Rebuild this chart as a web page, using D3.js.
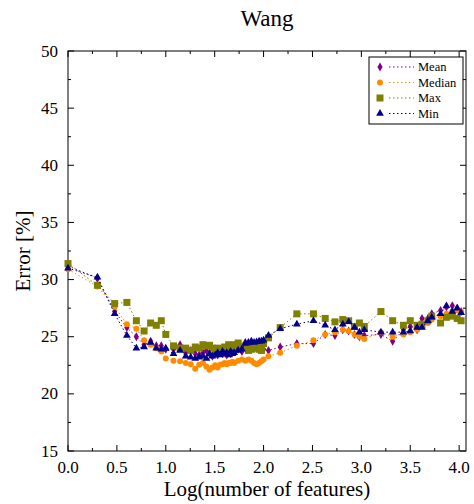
<!DOCTYPE html>
<html>
<head>
<meta charset="utf-8">
<script src="https://cdn.jsdelivr.net/npm/d3@7"></script>
<style>
  body { margin: 0; background: #fff; }
  svg text { font-family: "Liberation Serif", "DejaVu Serif", serif; fill: #000; }
</style>
</head>
<body>
<svg class="chart" width="474" height="504"></svg>
<script>
// log10(number of features)
const xs = [0, 0.301, 0.477, 0.602, 0.699, 0.778, 0.845, 0.903, 0.954,
    1.0, 1.079, 1.146, 1.204, 1.255, 1.301, 1.342, 1.38, 1.415, 1.447, 1.477,
    1.505, 1.531, 1.556, 1.58, 1.602, 1.623, 1.643, 1.663, 1.681, 1.699,
    1.740, 1.778, 1.813, 1.845, 1.875, 1.903, 1.929, 1.954, 1.978, 2.0,
    2.05, 2.17, 2.34, 2.51, 2.63, 2.73, 2.81, 2.87, 2.93, 2.98, 3.03, 3.20,
    3.32, 3.43, 3.50, 3.57, 3.62, 3.68, 3.72, 3.81, 3.87, 3.93, 3.98, 4.02];

const meanErr = [31.2, 30.1, 27.2, 25.8, 25.0, 24.3, 24.6, 24.2, 24.2,
    23.9, 23.9, 24.3, 23.6, 23.8, 23.5, 23.4, 23.6, 23.8, 23.5, 23.3,
    23.6, 23.4, 23.7, 23.5, 23.6, 23.4, 23.7, 23.5, 23.6, 23.7,
    23.9, 23.7, 24.5, 24.0, 24.3, 24.1, 24.2, 24.2, 24.0, 23.9,
    23.8, 24.1, 24.4, 24.4, 25.2, 25.1, 25.6, 25.5, 25.2, 25.0, 25.1, 25.2,
    24.6, 25.6, 25.9, 25.6, 26.6, 26.6, 27.0, 27.3, 27.6, 27.7, 27.5, 27.2];

const medianErr = [30.9, 29.4, 27.6, 26.1, 25.7, 24.7, 24.3, 24.0, 23.7,
    23.1, 22.9, 22.85, 22.7, 22.6, 22.2, 22.55, 22.7, 22.4, 22.1, 22.3,
    22.5, 22.3, 22.55, 22.6, 22.7, 22.6, 22.7, 22.7, 22.8, 22.7,
    22.9, 23.0, 22.9, 23.0, 22.9, 22.7, 22.6, 22.7, 22.85, 23.0,
    23.3, 23.6, 24.2, 24.7, 25.2, 25.4, 25.6, 25.5, 25.2, 25.0, 24.8, 25.4,
    25.0, 25.2, 25.4, 25.6, 25.9, 26.2, 26.5, 26.8, 27.0, 27.2, 27.3, 27.2];

const maxErr = [31.4, 29.5, 27.9, 28.0, 26.4, 25.5, 26.2, 26.0, 26.4,
    25.2, 24.2, 24.0, 24.0, 23.8, 24.1, 24.0, 24.3, 24.2, 24.25, 24.0,
    23.9, 24.0, 23.8, 23.9, 24.1, 24.0, 24.3, 24.1, 24.2, 24.3,
    24.45, 24.1, 24.2, 23.8, 23.9, 24.0, 24.1, 23.9, 23.8, 24.4,
    24.9, 25.8, 27.0, 27.0, 26.6, 26.3, 26.5, 26.4, 25.9, 26.2, 25.9, 27.2,
    26.4, 26.0, 26.4, 26.0, 26.1, 26.4, 26.8, 26.2, 26.7, 26.8, 26.6, 26.4];

const minErr = [31.0, 30.2, 27.0, 25.1, 24.0, 24.1, 24.5, 24.0, 23.9,
    24.0, 23.5, 23.8, 23.3, 23.2, 23.1, 23.2, 23.3, 23.1, 23.5, 23.3,
    23.4, 23.6, 23.4, 23.7, 23.5, 23.6, 23.4, 23.7, 23.5, 23.6,
    23.8, 23.9, 24.4, 24.5, 24.6, 24.5, 24.55, 24.6, 24.6, 24.7,
    25.1, 25.7, 26.1, 26.4, 26.0, 25.6, 26.1, 26.3, 25.8, 25.4, 25.6, 25.4,
    25.4, 25.4, 25.5, 25.8, 25.8, 26.4, 26.7, 27.0, 27.7, 27.2, 27.5, 27.1];

const seriesNames = ["Mean", "Median", "Max", "Min"];
const seriesColors = ["#800080", "#ff8c00", "#808000", "#00008b"];
const xTicks = [0, 0.5, 1.0, 1.5, 2.0, 2.5, 3.0, 3.5, 4.0];
const yTicks = [15, 20, 25, 30, 35, 40, 45, 50];

const svg = d3.select("svg.chart");
const margin = { top: 51, right: 8, bottom: 53, left: 68 };
const width = +svg.attr("width") - margin.left - margin.right;
const height = +svg.attr("height") - margin.top - margin.bottom;
const g = svg.append("g").attr("transform", `translate(${margin.left}, ${margin.top})`);

const x = d3.scaleLinear().domain([0, 4.07]).range([0, width]);
const y = d3.scaleLinear().domain([15, 50]).range([height, 0]);

// frame
g.append("rect")
    .attr("width", width).attr("height", height)
    .attr("fill", "none").attr("stroke", "#000").attr("stroke-width", 1);

const xMinor = d3.range(0.25, 4.07, 0.5);
const yMinor = d3.range(17.5, 50, 5);

function ticks(axis, major, minor) {
    const gg = g.append("g").attr("stroke", "#000").attr("stroke-width", 1);
    const draw = (vals, len) => vals.forEach(v => {
        if (axis === "x") {
            const px = x(v);
            gg.append("line").attr("x1", px).attr("x2", px).attr("y1", height).attr("y2", height - len);
            gg.append("line").attr("x1", px).attr("x2", px).attr("y1", 0).attr("y2", len);
        } else {
            const py = y(v);
            gg.append("line").attr("y1", py).attr("y2", py).attr("x1", 0).attr("x2", len);
            gg.append("line").attr("y1", py).attr("y2", py).attr("x1", width).attr("x2", width - len);
        }
    });
    draw(major, 6);
    draw(minor, 3);
}
ticks("x", xTicks, xMinor);
ticks("y", yTicks, yMinor);

g.append("g").selectAll("text")
    .data(xTicks).enter().append("text")
    .attr("x", d => x(d)).attr("y", height + 22)
    .attr("text-anchor", "middle").attr("font-size", 17)
    .text(d => d3.format(".1f")(d));

g.append("g").selectAll("text")
    .data(yTicks).enter().append("text")
    .attr("x", -10).attr("y", d => y(d)).attr("dy", "0.33em")
    .attr("text-anchor", "end").attr("font-size", 17)
    .text(d => d);

svg.append("text")
    .attr("x", margin.left + width / 2).attr("y", 26)
    .attr("text-anchor", "middle").attr("font-size", 23)
    .text("Wang");

svg.append("text")
    .attr("x", margin.left + width / 2).attr("y", 496)
    .attr("text-anchor", "middle").attr("font-size", 21)
    .text("Log(number of features)");

svg.append("text")
    .attr("transform", `translate(30, ${margin.top + height / 2}) rotate(-90)`)
    .attr("text-anchor", "middle").attr("font-size", 21)
    .text("Error [%]");

// markers
const diamond = "M0,-4.5L2.6,0L0,4.5L-2.6,0Z";
const markers = [
    sel => sel.append("path").attr("d", diamond),
    sel => sel.append("circle").attr("r", 3),
    sel => sel.append("rect").attr("x", -3.5).attr("y", -3.5).attr("width", 7).attr("height", 7),
    sel => sel.append("path").attr("d", d3.symbol(d3.symbolTriangle, 26)())
];

const allValues = [meanErr, medianErr, maxErr, minErr];
const line = d3.line().x(d => x(d[0])).y(d => y(d[1]));

allValues.forEach((vals, i) => {
    const pts = xs.map((v, j) => [v, vals[j]]);
    g.append("path")
        .datum(pts)
        .attr("d", line)
        .attr("fill", "none")
        .attr("stroke", seriesColors[i])
        .attr("stroke-width", 1)
        .attr("stroke-dasharray", "1.5,2.5");
    const m = g.append("g").attr("fill", seriesColors[i]);
    pts.forEach(p => {
        const s = m.append("g").attr("transform", `translate(${x(p[0])}, ${y(p[1])})`);
        markers[i](s);
    });
});

// legend
const lg = svg.append("g").attr("transform", "translate(369, 57)");
lg.append("rect").attr("width", 94).attr("height", 67)
    .attr("fill", "#fff").attr("stroke", "#000").attr("stroke-width", 1);
seriesNames.forEach((name, i) => {
    const row = lg.append("g").attr("transform", `translate(0, ${10 + i * 15.5})`);
    const mk = row.append("g").attr("transform", "translate(11, 0)").attr("fill", seriesColors[i]);
    markers[i](mk);
    row.append("line").attr("x1", 20).attr("x2", 45).attr("y1", 0).attr("y2", 0)
        .attr("stroke", seriesColors[i]).attr("stroke-dasharray", "1.5,2.5");
    row.append("text").attr("x", 49).attr("y", 0).attr("dy", "0.35em")
        .attr("font-size", 12.5).text(name);
});
</script>
</body>
</html>
